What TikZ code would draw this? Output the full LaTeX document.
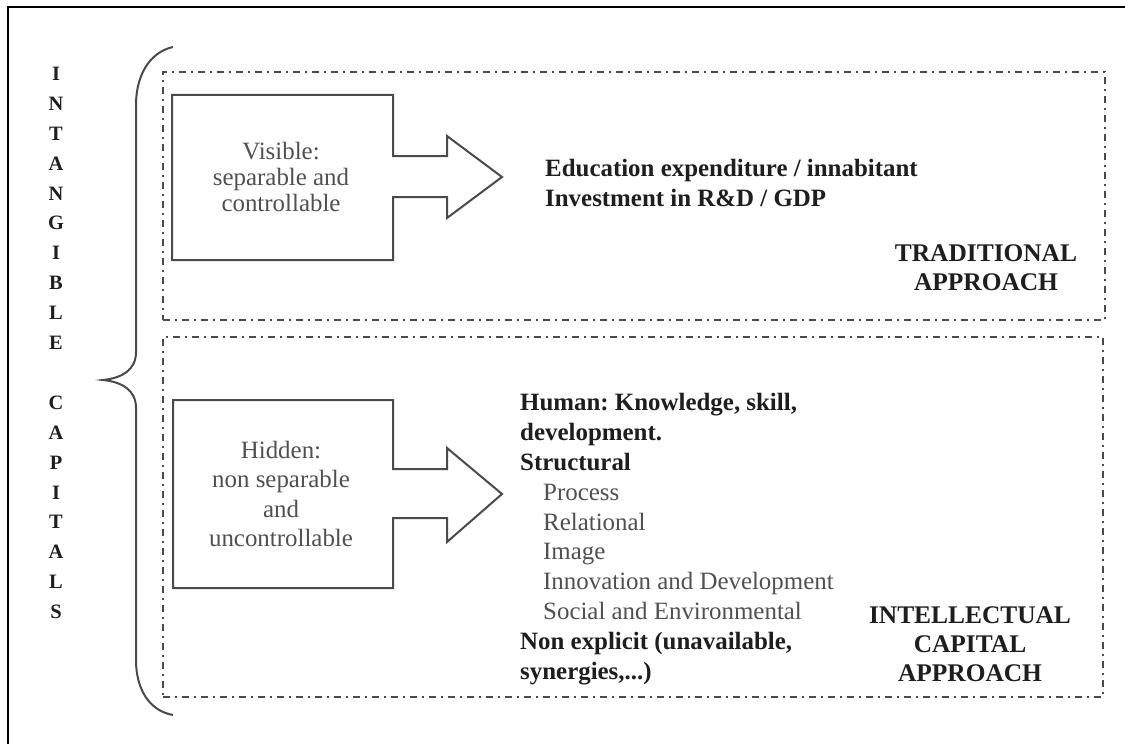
\documentclass[tikz,border=0pt]{standalone}
\usepackage{fontspec}
\setmainfont{Liberation Serif}
\frenchspacing
\definecolor{linegray}{HTML}{4A4A4A}
\definecolor{txtgray}{HTML}{505050}
\definecolor{txtdark}{HTML}{1E1E1E}
\begin{document}
\begin{tikzpicture}[x=1bp,y=-1bp,
  frameline/.style={draw=black,line width=2.4bp},
  groupbox/.style={draw=linegray,line width=1.6bp,dash pattern=on 7bp off 5bp on 2bp off 5bp},
  shapeline/.style={draw=linegray,line width=2bp,line join=miter},
  bracestyle/.style={draw=linegray,line width=2bp},
  boxtext/.style={inner sep=0pt,align=center,text=txtgray},
  boldtext/.style={inner sep=0pt,text=txtdark,font=\bfseries\fontsize{25}{30}\selectfont},
  sidetext/.style={inner sep=0pt,align=center,text=txtdark,font=\bfseries\fontsize{20.5}{30}\selectfont}
]
\useasboundingbox (0,0) rectangle (1125,744);
\fill[white] (0,0) rectangle (1125,744);
% outer frame
\draw[frameline] (8,746) -- (8,7) -- (1127,7);

% vertical title
\node[sidetext] (title) at (56,343) {I\\N\\T\\A\\N\\G\\I\\B\\L\\E\\[30bp]C\\A\\P\\I\\T\\A\\L\\S};

% brace
\coordinate (bt) at (173,47);
\coordinate (btip) at (103,380);
\coordinate (bb) at (173,715);
\draw[bracestyle] (bt) .. controls (150,52) and (136,75) .. (136,105) -- (136,352)
  .. controls (136,370) and (122,378) .. (btip)
  .. controls (122,382) and (136,390) .. (136,408) -- (136,660)
  .. controls (136,690) and (150,711) .. (bb);

% group boxes
\node[groupbox,minimum width=942bp,minimum height=248bp,inner sep=0pt] (trad) at (634,196) {};
\node[groupbox,minimum width=940bp,minimum height=360bp,inner sep=0pt] (icap) at (633,517) {};

% visible arrow-box
\node[boxtext,font=\fontsize{25}{26.5}\selectfont] (vis) at (281,177) {Visible:\\separable and\\controllable};
\draw[shapeline] (393,156) -- (393,95) -- (172,95) -- (172,260) -- (393,260) -- (393,197)
  -- (447,197) -- (447,218) -- (502,177) -- (447,136) -- (447,156) -- cycle;

% hidden arrow-box
\node[boxtext,font=\fontsize{25}{29.3}\selectfont] (hid) at (281,494) {Hidden:\\non separable\\and\\uncontrollable};
\draw[shapeline] (393,469) -- (393,400) -- (173,400) -- (173,588) -- (393,588) -- (393,518)
  -- (447,518) -- (447,542) -- (502,494) -- (447,448) -- (447,469) -- cycle;

% traditional content
\node[boldtext,align=left,anchor=north west] (tradlist) at (545,159)
  {Education expenditure / innabitant\\Investment in R\&D / GDP};
\node[boldtext,align=center,font=\bfseries\fontsize{25.5}{29}\selectfont] (tradlabel) at (986,267.5)
  {TRADITIONAL\\APPROACH};

% intellectual capital content
\node[inner sep=0pt,align=left,anchor=north west,text=txtdark,font=\fontsize{25}{30}\selectfont] (iclist) at (520,393)
  {\textbf{Human: Knowledge, skill,}\\
   \textbf{development.}\\
   \textbf{Structural}\\
   \hspace*{23bp}{\color{txtgray}Process}\\
   \hspace*{23bp}{\color{txtgray}Relational}\\
   \hspace*{23bp}{\color{txtgray}Image}\\
   \hspace*{23bp}{\color{txtgray}Innovation and Development}\\
   \hspace*{23bp}{\color{txtgray}Social and Environmental}\\
   \textbf{Non explicit (unavailable,}\\
   \textbf{synergies,...)}};
\node[boldtext,align=center,font=\bfseries\fontsize{25.5}{29}\selectfont] (iclabel) at (970,644)
  {INTELLECTUAL\\CAPITAL\\APPROACH};
\end{tikzpicture}
\end{document}
